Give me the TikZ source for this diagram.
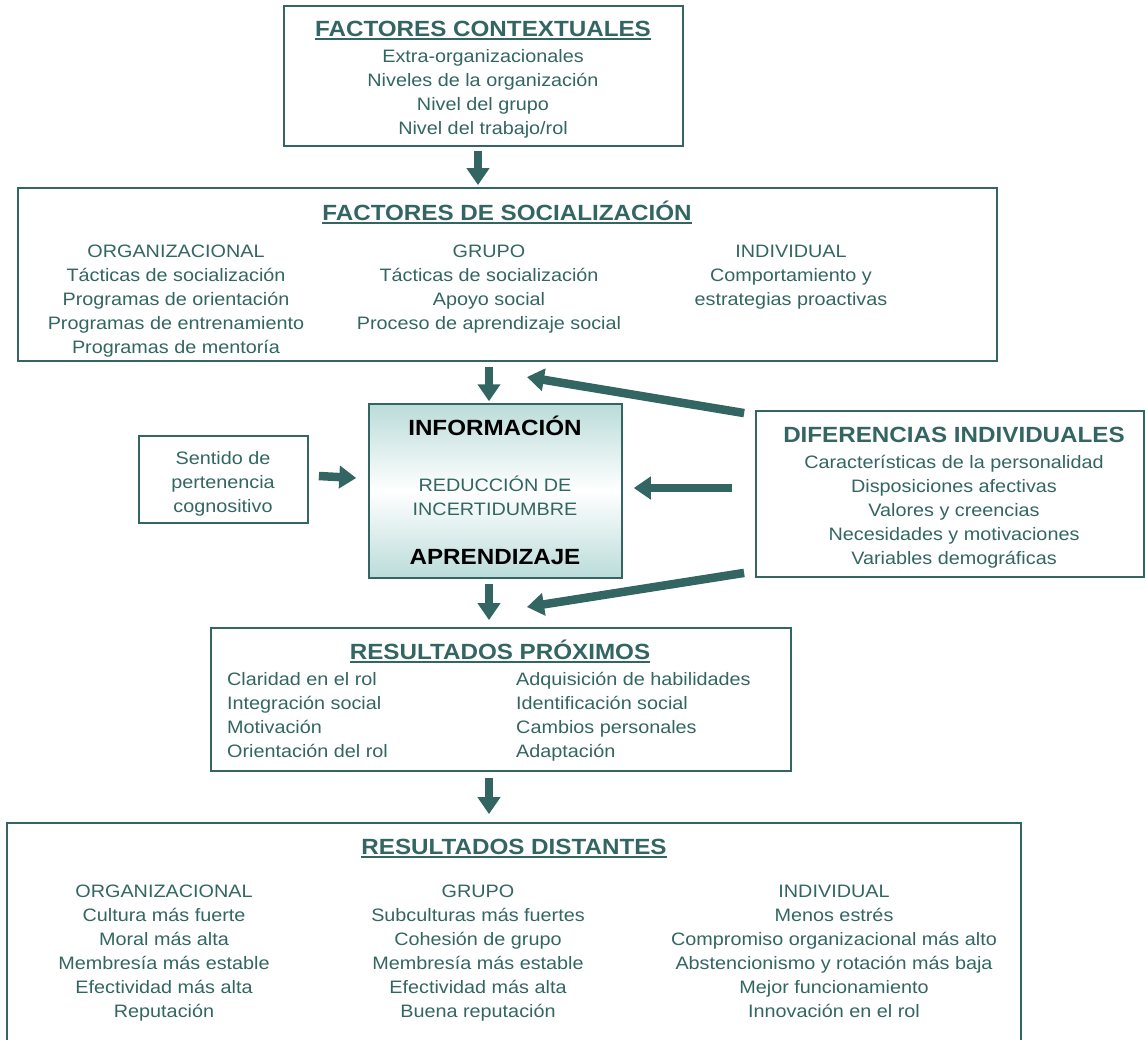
\documentclass[tikz,border=0pt]{standalone}
\usepackage{fontspec}
\setmainfont{Liberation Sans}[FakeStretch=1.1]
\usetikzlibrary{arrows.meta}
\definecolor{teal}{RGB}{51,102,98}
\definecolor{lightteal}{RGB}{186,220,218}
% underlined heading with a thick rule
\newcommand\ulbar[1]{\setbox0\hbox{#1}\rlap{\rule[-3.5pt]{\wd0}{1.6pt}}\box0}
\tikzset{
  x=1pt, y=-1pt,
  box/.style={draw=teal, line width=1.8pt, fill=white, inner sep=0pt},
  body/.style={text=teal, font=\fontsize{18}{24}\selectfont, align=center, inner sep=0pt, anchor=north},
  bodyl/.style={body, align=left, anchor=north west},
  head/.style={text=teal, font=\fontsize{22}{26}\bfseries\selectfont, inner sep=0pt, anchor=base},
  core/.style={text=black, font=\fontsize{22}{26}\bfseries\selectfont, inner sep=0pt, anchor=base},
  blockarrow/.style={draw=teal, line width=8.5pt, -{Triangle[width=22pt,length=17pt]}},
}
\begin{document}
\begin{tikzpicture}
\useasboundingbox (0,0) rectangle (1145,1039);

% ---- boxes ----
\node[box, minimum width=399, minimum height=140] (ctx) at (483.5,76) {};
\node[box, minimum width=979, minimum height=173] (soc) at (507.5,274.5) {};
\node[draw=teal, line width=1.5pt, inner sep=0pt, minimum width=253, minimum height=174,
      top color=lightteal, bottom color=lightteal, middle color=white] (core) at (495.5,491) {};
\node[box, minimum width=169, minimum height=87] (sent) at (223.5,479.5) {};
\node[box, minimum width=388, minimum height=166] (dif) at (950,494) {};
\node[box, minimum width=580, minimum height=143] (prox) at (501,699.5) {};
\node[box, minimum width=1014, minimum height=240] (dist) at (514,943) {};

% ---- factores contextuales ----
\node[head] (ctxT) at (483,36) {\ulbar{FACTORES CONTEXTUALES}};
\node[body] (ctxB) at (483,49) {Extra-organizacionales\\Niveles de la organización\\Nivel del grupo\\Nivel del trabajo/rol};

% ---- factores de socialización ----
\node[head] (socT) at (507,220) {\ulbar{FACTORES DE SOCIALIZACIÓN}};
\node[body] (socA) at (176,245) {ORGANIZACIONAL\\Tácticas de socialización\\Programas de orientación\\Programas de entrenamiento\\Programas de mentoría};
\node[body] (socB) at (489,245) {GRUPO\\Tácticas de socialización\\Apoyo social\\Proceso de aprendizaje social};
\node[body] (socC) at (791,245) {INDIVIDUAL\\Comportamiento y\\estrategias proactivas};

% ---- núcleo ----
\node[core] (coreT) at (495,435) {INFORMACIÓN};
\node[body] (coreM) at (495,476) {REDUCCIÓN DE\\INCERTIDUMBRE};
\node[core] (coreB) at (495,564) {APRENDIZAJE};

% ---- sentido de pertenencia ----
\node[body] (sentB) at (223,451) {Sentido de\\pertenencia\\cognositivo};

% ---- diferencias individuales ----
\node[head] (difT) at (954,442) {DIFERENCIAS INDIVIDUALES};
\node[body] (difB) at (954,455) {Características de la personalidad\\Disposiciones afectivas\\Valores y creencias\\Necesidades y motivaciones\\Variables demográficas};

% ---- resultados próximos ----
\node[head] (proxT) at (500,659) {\ulbar{RESULTADOS PRÓXIMOS}};
\node[bodyl] (proxA) at (227,672) {Claridad en el rol\\Integración social\\Motivación\\Orientación del rol};
\node[bodyl] (proxB) at (516,672) {Adquisición de habilidades\\Identificación social\\Cambios personales\\Adaptación};

% ---- resultados distantes ----
\node[head] (distT) at (514,854) {\ulbar{RESULTADOS DISTANTES}};
\node[body] (distA) at (164,885) {ORGANIZACIONAL\\Cultura más fuerte\\Moral más alta\\Membresía más estable\\Efectividad más alta\\Reputación};
\node[body] (distB) at (478,885) {GRUPO\\Subculturas más fuertes\\Cohesión de grupo\\Membresía más estable\\Efectividad más alta\\Buena reputación};
\node[body] (distC) at (834,885) {INDIVIDUAL\\Menos estrés\\Compromiso organizacional más alto\\Abstencionismo y rotación más baja\\Mejor funcionamiento\\Innovación en el rol};

% ---- free arrow ends ----
\coordinate (upin) at (527,377);
\coordinate (downin) at (527,607);

% ---- connectors ----
\draw[blockarrow] ([shift={(-5.5,4)}]ctx.south) -- ([shift={(-29.5,-2)}]soc.north);
\draw[blockarrow] ([shift={(-18.5,5)}]soc.south) -- ([shift={(-6.5,-2)}]core.north);
\draw[blockarrow] ([shift={(-6.5,5)}]core.south) -- ([shift={(-12,-7)}]prox.north);
\draw[blockarrow] ([shift={(-12,6)}]prox.south) -- ([shift={(-25,-8)}]dist.north);
\draw[blockarrow] ([shift={(10,-3.5)}]sent.east) -- ([shift={(-12,-13)}]core.west);
\draw[blockarrow] ([shift={(-23,-6)}]dif.west) -- ([shift={(11,-3)}]core.east);
\draw[blockarrow] ([shift={(-11,3)}]dif.north west) -- (upin);
\draw[blockarrow] ([shift={(-11,-5)}]dif.south west) -- (downin);
\end{tikzpicture}
\end{document}
